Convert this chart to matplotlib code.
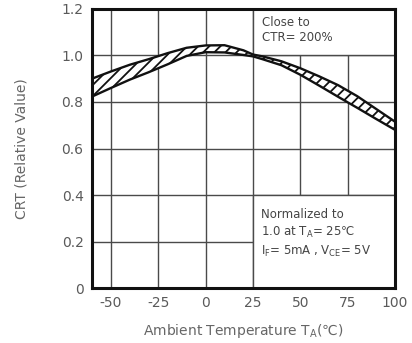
import numpy as np
import matplotlib
matplotlib.use('Agg')
import matplotlib.pyplot as plt
from matplotlib.patches import Rectangle

# Temperature points and CTR band (upper / lower limits)
temp = [-60, -50, -40, -30, -20, -10, 0, 10, 20, 25, 30, 40, 50, 60, 70, 80, 90, 100]
ctr_upper = [0.900, 0.931, 0.960, 0.984, 1.010, 1.033, 1.043, 1.044, 1.022, 1.004,
             0.996, 0.975, 0.945, 0.910, 0.872, 0.825, 0.770, 0.715]
ctr_lower = [0.823, 0.860, 0.896, 0.928, 0.962, 0.998, 1.014, 1.013, 1.002, 0.996,
             0.984, 0.958, 0.917, 0.870, 0.822, 0.775, 0.727, 0.680]

x_ticks = [-50, -25, 0, 25, 50, 75, 100]
y_ticks = [0, 0.2, 0.4, 0.6, 0.8, 1.0, 1.2]
y_labels = ['0', '0.2', '0.4', '0.6', '0.8', '1.0', '1.2']

plt.rcParams['hatch.linewidth'] = 1.3
plt.rcParams['axes.unicode_minus'] = False

fig = plt.figure(figsize=(4.12, 3.43), dpi=100)
ax = fig.add_axes([0.223, 0.160, 0.736, 0.814])

ax.set_xlim(-60, 100)
ax.set_ylim(0, 1.2)
ax.set_xticks(x_ticks)
ax.set_yticks(y_ticks)
ax.set_yticklabels(y_labels)
ax.tick_params(length=0, labelsize=10, labelcolor='#5a5a5a', pad=6)
ax.grid(True, color='#4a4a4a', linewidth=1.0)
ax.set_axisbelow(True)
for s in ax.spines.values():
    s.set_linewidth(2.2)
    s.set_color('#111111')

# white boxes holding the notes
ax.add_patch(Rectangle((25, 1.0), 75, 0.2, facecolor='white', edgecolor='#4a4a4a', lw=1.0, zorder=1))
ax.add_patch(Rectangle((25, 0), 75, 0.4, facecolor='white', edgecolor='#4a4a4a', lw=1.0, zorder=1))

ax.fill_between(temp, ctr_lower, ctr_upper, facecolor='white', edgecolor='#111111',
                hatch='///', linewidth=0, zorder=2)
ax.plot(temp, ctr_upper, color='#111111', lw=1.7, zorder=3, solid_joinstyle='round')
ax.plot(temp, ctr_lower, color='#111111', lw=1.7, zorder=3, solid_joinstyle='round')

ax.text(30, 1.17, 'Close to\nCTR= 200%', fontsize=8.5, color='#444444', va='top', linespacing=1.25, zorder=4)
ax.text(29, 0.345,
        'Normalized to\n1.0 at T$_\\mathregular{A}$= 25\u2103\nI$_\\mathregular{F}$= 5mA , V$_\\mathregular{CE}$= 5V',
        fontsize=8.5, color='#444444', va='top', linespacing=1.35, zorder=4)

ax.set_ylabel('CRT (Relative Value)', fontsize=10, color='#666666', labelpad=24)
ax.set_xlabel('Ambient Temperature T$_\\mathregular{A}$(\u2103)', fontsize=10, color='#666666', labelpad=8)

fig.savefig('out.png', dpi=100)
print('Done')
